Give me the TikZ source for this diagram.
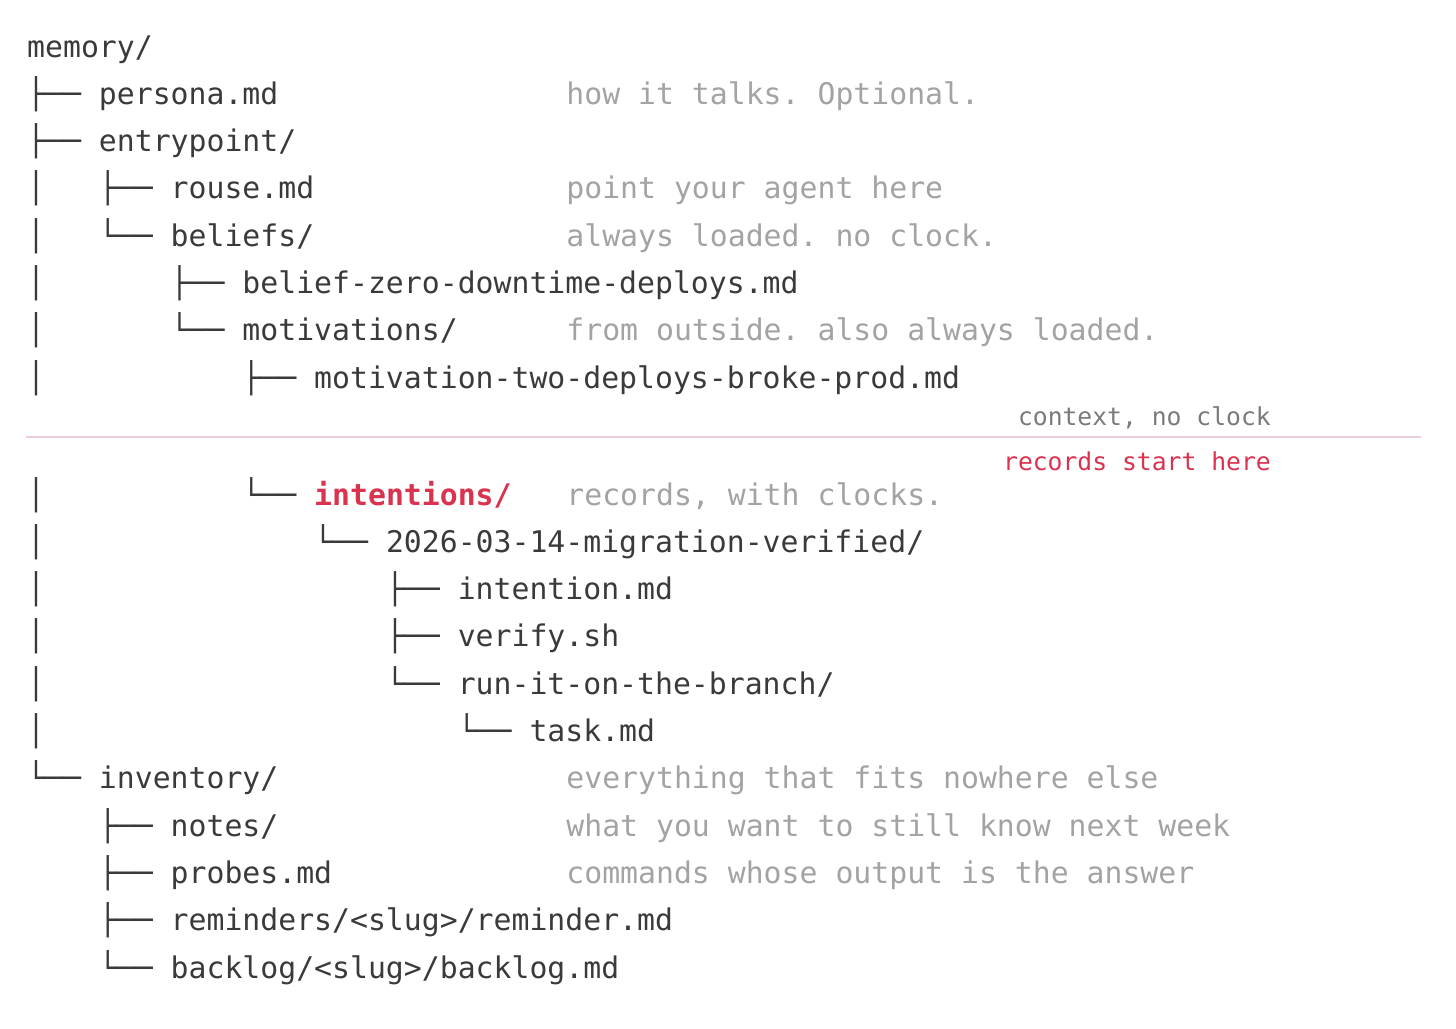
\documentclass[tikz,border=0pt]{standalone}
\usepackage{fontspec}
\newfontfamily\treefont{DejaVu Sans Mono}
\usetikzlibrary{positioning}
\definecolor{treeink}{HTML}{3A3A3A}
\definecolor{noteink}{HTML}{A3A3A3}
\definecolor{ctxink}{HTML}{7A7A7A}
\definecolor{recred}{HTML}{D93350}
\definecolor{splitpink}{HTML}{EDCDD4}
\frenchspacing

\begin{document}
\begin{tikzpicture}[x=1pt, y=-1pt,
  entry/.style={anchor=base west, inner sep=0pt, text=treeink, font=\treefont\fontsize{29.8}{36}\selectfont},
  note/.style={entry, text=noteink},
  marker/.style={anchor=base east, inner sep=0pt, font=\treefont\fontsize{24.7}{30}\selectfont}]
  \useasboundingbox (0,0) rectangle (1456,1028);
  \def\cw{17.94}

  % Kontext-Teil
  \node[entry] (memory) at (27,57) {memory/};
  \node[entry] (persona) at (27,104.3) {├── persona.md};
  \node[entry] (entrypoint) at (27,151.6) {├── entrypoint/};
  \node[entry] (rouse) at (27+4*\cw,198.9) {├── rouse.md};
  \node[entry] (beliefs) at (27+4*\cw,246.2) {└── beliefs/};
  \node[entry] (belief) at (27+8*\cw,293.5) {├── belief-zero-downtime-deploys.md};
  \node[entry] (motivations) at (27+8*\cw,340.8) {└── motivations/};
  \node[entry] (motivation) at (27+12*\cw,388.1) {├── motivation-two-deploys-broke-prod.md};

  % Kommentare rechts
  \node[note] (personanote) at (28+30*\cw,104.3) {how it talks. Optional.};
  \node[note] (rousenote) at (28+30*\cw,198.9) {point your agent here};
  \node[note] (beliefsnote) at (28+30*\cw,246.2) {always loaded. no clock.};
  \node[note] (motivnote) at (28+30*\cw,340.8) {from outside. also always loaded.};

  % Trennlinie
  \coordinate (splitL) at (26,437);
  \coordinate (splitR) at (1421,437);
  \node[marker, text=ctxink] (context) at (1271,425) {context, no clock};
  \draw[splitpink, line width=1.5pt] (splitL) -- (splitR);
  \node[marker, text=recred] (records) at (1271,470) {records start here};

  % Records-Teil
  \node[entry] (intentions) at (27+12*\cw,505) {└── {\bfseries\color{recred}intentions/}};
  \node[entry] (migration) at (27+16*\cw,552.3) {└── 2026-03-14-migration-verified/};
  \node[entry] (intention) at (27+20*\cw,599.6) {├── intention.md};
  \node[entry] (verify) at (27+20*\cw,646.9) {├── verify.sh};
  \node[entry] (runit) at (27+20*\cw,694.2) {└── run-it-on-the-branch/};
  \node[entry] (task) at (27+24*\cw,741.5) {└── task.md};
  \node[note] (intentnote) at (28+30*\cw,505) {records, with clocks.};

  % Inventory
  \node[entry] (inventory) at (27,788.8) {└── inventory/};
  \node[entry] (notes) at (27+4*\cw,836.1) {├── notes/};
  \node[entry] (probes) at (27+4*\cw,883.4) {├── probes.md};
  \node[entry] (reminders) at (27+4*\cw,930.7) {├── reminders/<slug>/reminder.md};
  \node[entry] (backlog) at (27+4*\cw,978) {└── backlog/<slug>/backlog.md};
  \node[note] (invnote) at (28+30*\cw,788.8) {everything that fits nowhere else};
  \node[note] (notesnote) at (28+30*\cw,836.1) {what you want to still know next week};
  \node[note] (probesnote) at (28+30*\cw,883.4) {commands whose output is the answer};

  % senkrechte Striche unter entrypoint
  \foreach \y [count=\i] in {198.9,246.2,293.5,340.8,388.1,505,552.3,599.6,646.9,694.2,741.5} {
    \node[entry] (bar\i) at (27,\y) {│};
  }
\end{tikzpicture}
\end{document}
